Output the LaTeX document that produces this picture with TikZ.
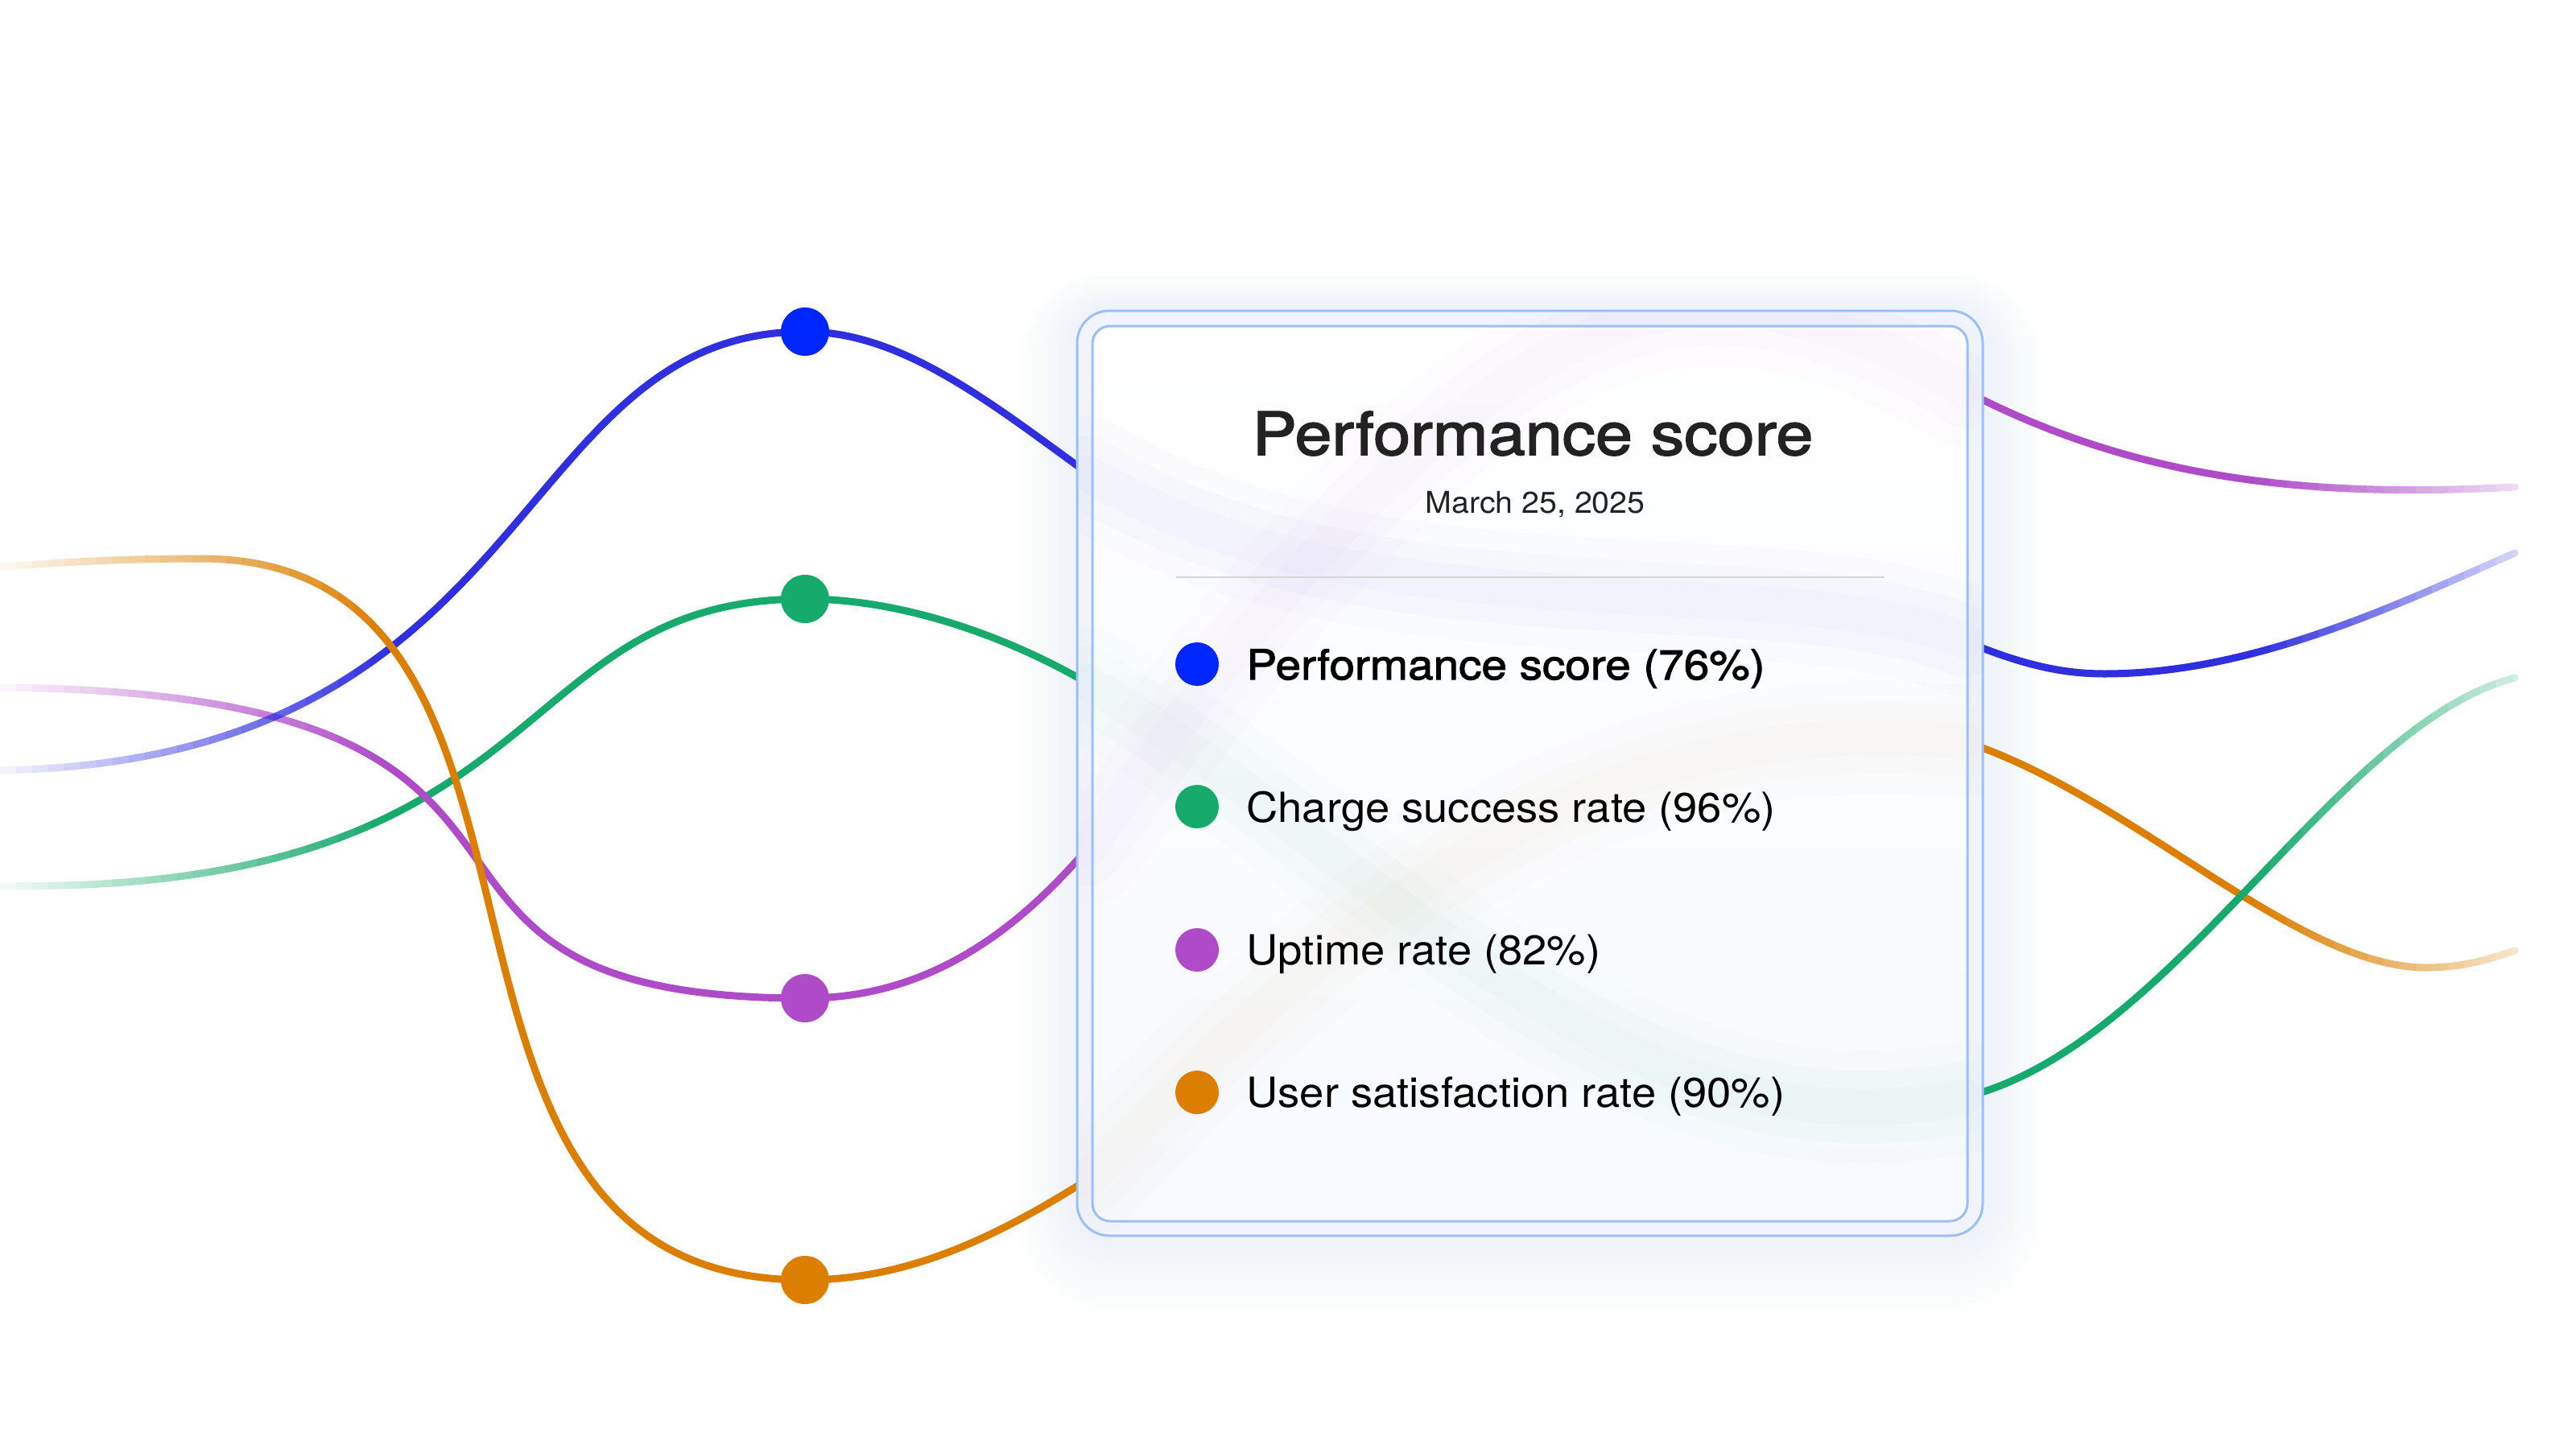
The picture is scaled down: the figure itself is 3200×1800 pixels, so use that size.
\documentclass[tikz,border=0pt]{standalone}
\usepackage{fontspec}
\setmainfont{TeX Gyre Heros}[FakeStretch=1.055]
\newfontfamily\semib{TeX Gyre Heros}[FakeStretch=1.1, FakeBold=2]
\newfontfamily\semibt{TeX Gyre Heros}[FakeStretch=1.12, FakeBold=2.2]
\usetikzlibrary{calc}
\definecolor{cblue}{HTML}{2F2FE0}
\definecolor{cbluedot}{HTML}{0026FF}
\definecolor{cgreen}{HTML}{16AA6C}
\definecolor{cpurple}{HTML}{AF4BC9}
\definecolor{corange}{HTML}{DC7F00}
\definecolor{boxline}{HTML}{9DBFF8}
\definecolor{bandfill}{HTML}{F1F4FD}
\definecolor{innerbot}{HTML}{F6F9FE}
\definecolor{glowc}{HTML}{C5D3FA}
\definecolor{txt}{HTML}{222222}
\definecolor{sepline}{HTML}{D6D6D6}
\tikzset{
  curve/.style={line width=0.09cm, line cap=round},
  bigdot/.style={circle, inner sep=0pt, minimum size=0.6cm, draw=none},
  legdot/.style={circle, inner sep=0pt, minimum size=0.54cm, draw=none},
  legtext/.style={anchor=base west, text=black, font=\fontsize{14.65}{18}\selectfont},
  blurA/.style={line width=1.4cm, line cap=round, draw opacity=0.013},
  blurB/.style={line width=0.9cm, line cap=round, draw opacity=0.014},
  blurC/.style={line width=0.45cm, line cap=round, draw opacity=0.014},
}
\newcommand{\gradcurve}[2]{%
  \foreach \xa in {0,20,...,460}{%
    \pgfmathsetmacro{\op}{0.04+0.96*(\xa+10)/480}%
    \begin{scope}
      \clip (\xa,-100) rectangle (\xa+20,1900);
      \draw[curve,#1,draw opacity=\op] #2;
    \end{scope}}%
  \begin{scope}
    \clip (480,-100) rectangle (2800,1900);
    \draw[curve,#1] #2;
  \end{scope}%
  \foreach \xa in {2800,2820,...,3180}{%
    \pgfmathsetmacro{\op}{max(0.2,1-0.8*(\xa+10-2800)/324)}%
    \begin{scope}
      \clip (\xa,-100) rectangle (\xa+20,1900);
      \draw[curve,#1,draw opacity=\op] #2;
    \end{scope}}%
}
\newcommand{\blurred}[2]{%
  \draw[blurA,#1] #2; \draw[blurB,#1] #2; \draw[blurC,#1] #2;}
\begin{document}
\begin{tikzpicture}[x=0.01cm, y=-0.01cm]
\useasboundingbox (0,0) rectangle (3200,1800);
\fill[white] (0,0) rectangle (3200,1800);

% glow around the card
\foreach \k in {1,...,12}{
  \fill[glowc, fill opacity=0.018, rounded corners=0.4cm+\k*0.06cm]
    (1338-\k*6,386-\k*6+\k*2) rectangle (2463+\k*6,1535+\k*6+\k*2);
}

% anchor points
\coordinate (bL) at (-20,957);
\coordinate (bD) at (1000,412);
\coordinate (bI) at (1350,587);
\coordinate (bO) at (2440,796);
\coordinate (bM) at (2614,837);
\coordinate (bR) at (3124,687);

\coordinate (gL) at (-20,1100);
\coordinate (gD) at (1000,744);
\coordinate (gI) at (1350,848);
\coordinate (gO) at (2440,1363);
\coordinate (gR) at (3124,842);

\coordinate (pL) at (-20,854);
\coordinate (pD) at (1000,1240);
\coordinate (pI) at (1350,1055);
\coordinate (pO) at (2440,485);
\coordinate (pR) at (3124,605);

\coordinate (oL) at (-20,706);
\coordinate (oT) at (250,694);
\coordinate (oD) at (1000,1590);
\coordinate (oI) at (1350,1466);
\coordinate (oO) at (2440,921);
\coordinate (oM) at (3012,1202);
\coordinate (oR) at (3124,1181);

% curves (left part)
\gradcurve{cgreen}{(gL) .. controls (700,1118) and (620,744) .. (gD) .. controls (1120,744) and (1250,790) .. (gI)}
\gradcurve{cpurple}{(pL) .. controls (829,854) and (384,1240) .. (pD) .. controls (1150,1240) and (1260,1160) .. (pI)}
\gradcurve{cblue}{(bL) .. controls (675,957) and (627,412) .. (bD) .. controls (1120,412) and (1230,500) .. (bI)}
\gradcurve{corange}{(oL) .. controls (80,698) and (150,694) .. (oT) .. controls (765,694) and (450,1590) .. (oD) .. controls (1130,1590) and (1240,1535) .. (oI)}

% curves (right part)
\gradcurve{cpurple}{(pO) .. controls (2660,600) and (2880,618) .. (pR)}
\gradcurve{cblue}{(bO) .. controls (2510,825) and (2560,837) .. (bM) .. controls (2800,837) and (2980,750) .. (bR)}
\gradcurve{corange}{(oO) .. controls (2650,990) and (2850,1200) .. (oM) .. controls (3060,1202) and (3090,1192) .. (oR)}
\gradcurve{cgreen}{(gO) .. controls (2700,1300) and (2900,900) .. (gR)}

% dots on the curves
\node[bigdot, fill=cbluedot] (dotB) at (bD) {};
\node[bigdot, fill=cgreen] (dotG) at (gD) {};
\node[bigdot, fill=cpurple] (dotP) at (pD) {};
\node[bigdot, fill=corange] (dotO) at (oD) {};

% card
\fill[bandfill, rounded corners=0.4cm] (1338,386) rectangle (2463,1535);
\fill[top color=white, bottom color=innerbot, rounded corners=0.22cm] (1357,405) rectangle (2444,1517);
\begin{scope}
  \clip[rounded corners=0.4cm] (1338,386) rectangle (2463,1535);
  \blurred{cblue}{(bI) .. controls (1700,800) and (2200,700) .. (bO)}
  \blurred{cpurple}{(pI) .. controls (1600,700) and (1900,330) .. (2200,390) .. controls (2320,415) and (2400,460) .. (pO)}
  \blurred{cgreen}{(gI) .. controls (1700,1050) and (2000,1450) .. (gO)}
  \blurred{corange}{(oI) .. controls (1700,1100) and (2000,880) .. (oO)}
\end{scope}
\draw[boxline, line width=0.03cm, rounded corners=0.4cm] (1338,386) rectangle (2463,1535);
\draw[boxline, line width=0.03cm, rounded corners=0.22cm] (1357,405) rectangle (2444,1517);

% header
\node[anchor=base, text=txt, font=\fontsize{21}{25}\selectfont\semibt] (title) at (1904,565) {Performance score};
\node[anchor=base, text=txt, font=\fontsize{10.6}{13}\selectfont] (date) at (1907,637) {March 25, 2025};
\coordinate (sepL) at (1461,717);
\coordinate (sepR) at (2341,717);
\draw[sepline, line width=0.025cm] (sepL) -- (sepR);

% legend
\node[legdot, fill=cbluedot] (l1) at (1487,825) {};
\node[legdot, fill=cgreen] (l2) at (1487,1002) {};
\node[legdot, fill=cpurple] (l3) at (1487,1180) {};
\node[legdot, fill=corange] (l4) at (1487,1357) {};
\node[legtext, font=\fontsize{14.65}{18}\selectfont\semib] (t1) at (1536,844) {Performance score (76\%)};
\node[legtext] (t2) at (1536,1021) {Charge success rate (96\%)};
\node[legtext] (t3) at (1536,1198) {Uptime rate (82\%)};
\node[legtext] (t4) at (1536,1375) {User satisfaction rate (90\%)};
\end{tikzpicture}
\end{document}
